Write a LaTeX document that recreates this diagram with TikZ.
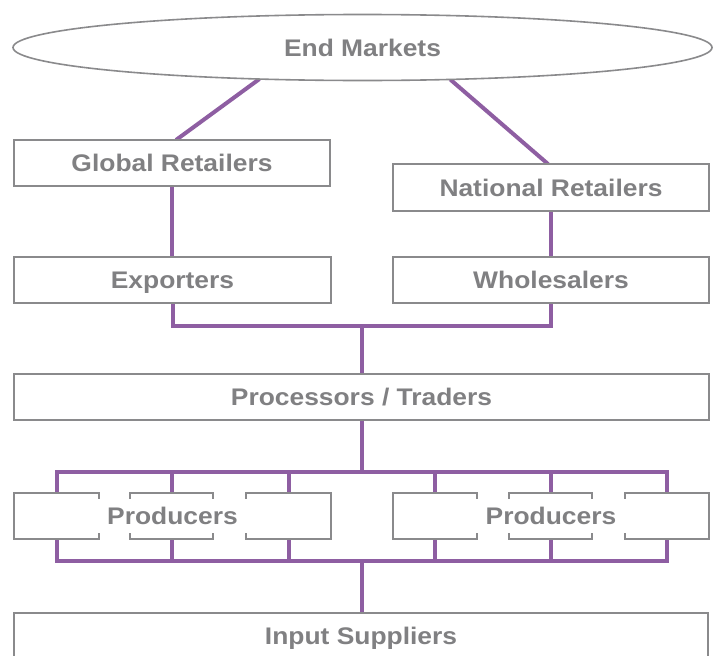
\documentclass[tikz,border=0pt]{standalone}
\usepackage{fontspec}
\setmainfont{Liberation Sans}[FakeStretch=1.1]
\usetikzlibrary{shapes.geometric,calc,backgrounds}
\definecolor{boxgray}{RGB}{138,138,140}
\definecolor{txtgray}{RGB}{128,128,130}
\definecolor{purp}{RGB}{142,94,162}
\begin{document}
\begin{tikzpicture}[x=1pt,y=-1pt,
  lblfont/.style={font=\bfseries\fontsize{24}{28}\selectfont, text=txtgray, text height=17pt, text depth=0pt},
  box/.style={draw=boxgray, line width=2pt, fill=white, minimum height=46pt, inner sep=0pt, outer sep=0pt, lblfont},
  lab/.style={fill=white, minimum width=152pt, minimum height=34pt, inner sep=0pt, outer sep=0pt, lblfont},
  link/.style={draw=purp, line width=4pt}]
\useasboundingbox (0,0) rectangle (715,656);
% nodes
\node[ellipse, draw=boxgray, line width=1.6pt, fill=white, minimum width=699pt, minimum height=66pt, inner sep=0pt, outer sep=0pt, lblfont] (em) at (362.5,47.5) {End Markets};
\node[box, minimum width=316pt] (gr) at (172,163) {Global Retailers};
\node[box, minimum width=316pt, minimum height=47pt] (nr) at (551,187.5) {National Retailers};
\node[box, minimum width=317pt] (ex) at (172.5,280) {Exporters};
\node[box, minimum width=316pt] (wh) at (551,280) {Wholesalers};
\node[box, minimum width=695pt] (pt) at (361.5,397) {Processors / Traders};
\node[box, minimum width=85pt] (p1) at (56.5,516) {};
\node[box, minimum width=83pt] (p2) at (171.5,516) {};
\node[box, minimum width=85pt] (p3) at (288.5,516) {};
\node[box, minimum width=84pt] (p4) at (435,516) {};
\node[box, minimum width=83pt] (p5) at (550.5,516) {};
\node[box, minimum width=84pt] (p6) at (667,516) {};
\node[lab] (l1) at (172.5,516) {Producers};
\node[lab] (l2) at (551,516) {Producers};
\node[box, minimum width=694pt] (is) at (361,636) {Input Suppliers};
\coordinate (j1) at (362,326);
\coordinate (bt) at (362,472);
\coordinate (bb) at (362,561);
% connectors
\begin{scope}[on background layer]
\draw[link] (em.197.6) -- ($(gr.north)+(4,0)$);
\draw[link] (em.340.2) -- ($(nr.north)+(-3,0)$);
\draw[link] (gr.south) -- (gr.south |- ex.north);
\draw[link] (nr.south) -- (wh.north);
\draw[link] (ex.south) |- (j1) -| (wh.south);
\draw[link] (j1) -- (j1 |- pt.north);
\draw[link] (pt.south -| bt) -- (bt);
\draw[link] (p1.north) -- (p1.north |- bt) -- (p6.north |- bt) -- (p6.north);
\draw[link] (p1.south) -- (p1.south |- bb) -- (p6.south |- bb) -- (p6.south);
\foreach \p in {p2,p3,p4,p5} {
  \draw[link] (\p.north) -- (\p.north |- bt);
  \draw[link] (\p.south) -- (\p.south |- bb);
}
\draw[link] (bb) -- (bb |- is.north);
\end{scope}
\end{tikzpicture}
\end{document}
